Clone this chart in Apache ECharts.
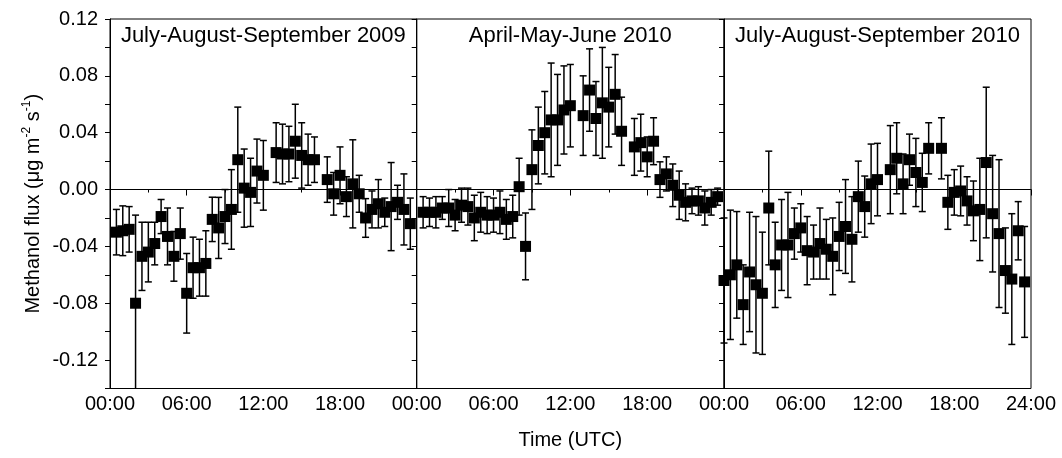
<!DOCTYPE html>
<html>
<head>
<meta charset="utf-8">
<script src="https://cdn.jsdelivr.net/npm/echarts@6/dist/echarts.min.js"></script>
<style>
  html, body { margin: 0; padding: 0; background: #fff; }
  #chart { width: 1062px; height: 458px; }
</style>
</head>
<body>
<div id="chart"></div>
<script>
// half-hour time stamps (hours UTC)
var hoursA = [0.5, 1, 1.5, 2, 2.5, 3, 3.5, 4, 4.5, 5, 5.5, 6, 6.5, 7, 7.5, 8, 8.5, 9, 9.5, 10,
  10.5, 11, 11.5, 12, 12.5, 13, 13.5, 14, 14.5, 15, 15.5, 16, 16.5, 17, 17.5, 18, 18.5, 19,
  19.5, 20, 20.5, 21, 21.5, 22, 22.5, 23, 23.5];
var hoursB = [0, 0.5, 1, 1.5, 2, 2.5, 3, 3.5, 4, 4.5, 5, 5.5, 6, 6.5, 7, 7.5, 8, 8.5, 9, 9.5, 10,
  10.5, 11, 11.5, 12, 12.5, 13, 13.5, 14, 14.5, 15, 15.5, 16, 16.5, 17, 17.5, 18, 18.5, 19,
  19.5, 20, 20.5, 21, 21.5, 22, 22.5, 23, 23.5];

// July-August-September 2009
var flux2009 = [-0.030, -0.029, -0.028, -0.080, -0.047, -0.044, -0.038, -0.019, -0.033, -0.047,
  -0.031, -0.073, -0.055, -0.055, -0.052, -0.021, -0.027, -0.019, -0.014, 0.021, 0.001, -0.002,
  0.013, 0.010, null, 0.026, 0.025, 0.025, 0.034, 0.024, 0.021, 0.021, null, 0.007, -0.003,
  0.010, -0.005, 0.004, -0.003, -0.020, -0.014, -0.010, -0.016, -0.012, -0.009, -0.014, -0.024];
var err2009 = [0.016, 0.0175, 0.016, 0.062, 0.024, 0.021, 0.015, 0.012, 0.020, 0.0175, 0.018,
  0.028, 0.0215, 0.020, 0.023, 0.0156, 0.0215, 0.019, 0.028, 0.037, 0.0275, 0.024, 0.0225,
  0.0245, null, 0.021, 0.021, 0.0195, 0.026, 0.023, 0.018, 0.016, null, 0.016, 0.015, 0.020,
  0.014, 0.031, 0.013, 0.0136, 0.013, 0.017, 0.010, 0.031, 0.012, 0.025, 0.018];

// April-May-June 2010
var fluxSpring = [-0.016, -0.016, -0.016, -0.013, -0.013, -0.018, -0.011, -0.012, -0.020,
  -0.016, -0.018, -0.018, -0.016, -0.021, -0.019, 0.002, -0.040, 0.014, 0.031, 0.040, 0.049,
  0.049, 0.056, 0.059, null, 0.052, 0.070, 0.050, 0.061, 0.058, 0.067, 0.041, null, 0.030,
  0.033, 0.023, 0.034, 0.007, 0.011, 0.003, -0.004, -0.009, -0.008, -0.008, -0.013, -0.009, -0.005];
var errSpring = [0.011, 0.010, 0.011, 0.008, 0.013, 0.011, 0.012, 0.013, 0.016, 0.014, 0.013,
  0.012, 0.015, 0.014, 0.015, 0.020, 0.0235, 0.028, 0.027, 0.029, 0.040, 0.032, 0.031, 0.029,
  null, 0.028, 0.029, 0.026, 0.039, 0.028, 0.028, 0.024, null, 0.020, 0.020, 0.014, 0.0165,
  0.0125, 0.012, 0.015, 0.017, 0.013, 0.009, 0.010, 0.012, 0.009, 0.006];

// July-August-September 2010
var flux2010 = [-0.064, -0.060, -0.053, -0.081, -0.058, -0.067, -0.073, -0.013, -0.053, -0.039,
  -0.039, -0.031, -0.027, -0.043, -0.044, -0.038, -0.042, -0.047, -0.033, -0.026, -0.035,
  -0.005, -0.012, 0.004, 0.007, null, 0.014, 0.022, 0.004, 0.021, 0.012, 0.005, 0.029, null,
  0.029, -0.009, -0.002, -0.001, -0.008, -0.015, -0.014, 0.019, -0.017, -0.031, -0.057,
  -0.063, -0.029, -0.065];
var err2010 = [0.044, 0.0455, 0.0375, 0.028, 0.042, 0.048, 0.043, 0.040, 0.030, 0.032, 0.037,
  0.018, 0.017, 0.024, 0.019, 0.025, 0.021, 0.027, 0.024, 0.033, 0.030, 0.025, 0.0215, 0.028,
  0.0255, null, 0.031, 0.025, 0.021, 0.018, 0.024, 0.0205, 0.018, null, 0.0215, 0.019, 0.016,
  0.0175, 0.017, 0.021, 0.036, 0.053, 0.041, 0.052, 0.030, 0.046, 0.0205, 0.039];

var panelTitles = ['July-August-September 2009', 'April-May-June 2010', 'July-August-September 2010'];

var FONT = "'Liberation Sans', Arial, sans-serif";
var YMIN = -0.14, YMAX = 0.12;

var panels = [
  { hours: hoursA, vals: flux2009, errs: err2009 },
  { hours: hoursA, vals: fluxSpring, errs: errSpring },
  { hours: hoursB, vals: flux2010, errs: err2010 }
];
var lefts = [110, 416.7, 724];
var widths = [306.7, 307.3, 307];

function hourLabel(v) {
  return (v < 10 ? '0' : '') + v + ':00';
}
function yLabel(v) {
  var k = Math.round(v * 100);
  return k % 4 === 0 ? (k / 100).toFixed(2) : '';
}

// error bar with caps, clipped at the bottom of the axis
function renderBar(params, api) {
  var x = api.value(0), y = api.value(1), e = api.value(2);
  var lo = y - e, hi = y + e;
  var clipped = lo < YMIN;
  if (clipped) lo = YMIN;
  var pTop = api.coord([x, hi]);
  var pBot = api.coord([x, lo]);
  var hw = 3.5;
  var st = { stroke: '#000', lineWidth: 1.5 };
  var kids = [
    { type: 'line', shape: { x1: pTop[0], y1: pTop[1], x2: pBot[0], y2: pBot[1] }, style: st },
    { type: 'line', shape: { x1: pTop[0] - hw, y1: pTop[1], x2: pTop[0] + hw, y2: pTop[1] }, style: st }
  ];
  if (!clipped) {
    kids.push({ type: 'line', shape: { x1: pBot[0] - hw, y1: pBot[1], x2: pBot[0] + hw, y2: pBot[1] }, style: st });
  }
  return { type: 'group', children: kids };
}

var grid = [], xAxis = [], yAxis = [], series = [], title = [];

panels.forEach(function (p, i) {
  grid.push({
    left: lefts[i], width: widths[i], top: 19, height: 369.5,
    show: true, borderColor: '#000', borderWidth: 1, backgroundColor: 'transparent'
  });
  title.push({
    text: panelTitles[i],
    left: lefts[i] + widths[i] / 2 - 5, top: 20, textAlign: 'center',
    textStyle: { fontFamily: FONT, fontSize: 22, fontWeight: 'normal', color: '#000' }
  });
  xAxis.push({
    type: 'value', gridIndex: i, min: 0, max: 24, interval: 6,
    axisLine: { show: true, lineStyle: { color: '#000', width: 1 } },
    axisTick: { show: true, length: 6, lineStyle: { color: '#000' } },
    minorTick: { show: true, splitNumber: 2, length: 3, lineStyle: { color: '#000' } },
    splitLine: { show: false },
    axisLabel: {
      formatter: hourLabel, fontFamily: FONT, fontSize: 20, color: '#000', margin: 6,
      showMaxLabel: i === 2, showMinLabel: true
    },
    name: i === 1 ? 'Time (UTC)' : '',
    nameLocation: 'middle', nameGap: 42,
    nameTextStyle: { fontFamily: FONT, fontSize: 20, color: '#000' }
  });
  // left axis: labels only on the first panel
  yAxis.push({
    type: 'value', gridIndex: i, min: YMIN, max: YMAX, interval: 0.02,
    axisLine: { show: true, lineStyle: { color: '#000', width: 1 } },
    axisTick: { show: i === 0, length: 5, lineStyle: { color: '#000' } },
    splitLine: { show: false },
    axisLabel: { show: i === 0, formatter: yLabel, fontFamily: FONT, fontSize: 20, color: '#000', margin: 12 },
    name: i === 0 ? '{a|Methanol flux (μg m}{s|-2}{a| s}{s|-1}{a|)}' : '',
    nameLocation: 'middle', nameRotate: 90, nameGap: 65,
    nameTextStyle: {
      rich: {
        a: { fontFamily: FONT, fontSize: 20, color: '#000', lineHeight: 24 },
        s: { fontFamily: FONT, fontSize: 12, color: '#000', lineHeight: 12, verticalAlign: 'top' }
      }
    }
  });
  // right axis: inward ticks on the first two panels
  yAxis.push({
    type: 'value', gridIndex: i, position: 'right', min: YMIN, max: YMAX, interval: 0.02,
    axisLine: { show: false },
    axisTick: { show: i < 2, inside: true, length: 5, lineStyle: { color: '#000' } },
    axisLabel: { show: false },
    splitLine: { show: false }
  });

  var pts = [], bars = [];
  p.hours.forEach(function (h, k) {
    if (p.vals[k] === null) return;
    pts.push([h, p.vals[k]]);
    bars.push([h, p.vals[k], p.errs[k]]);
  });

  series.push({
    type: 'custom', xAxisIndex: i, yAxisIndex: 2 * i,
    renderItem: renderBar, data: bars, z: 2, silent: true
  });
  series.push({
    type: 'scatter', xAxisIndex: i, yAxisIndex: 2 * i,
    symbol: 'rect', symbolSize: 11, data: pts, z: 3,
    itemStyle: { color: '#000', opacity: 1 },
    markLine: {
      silent: true, symbol: ['none', 'none'], label: { show: false },
      lineStyle: { color: '#000', width: 1, type: 'solid' },
      data: [{ yAxis: 0 }]
    }
  });
});

var myChart = echarts.init(document.getElementById('chart'));
myChart.setOption({
  animation: false,
  backgroundColor: '#fff',
  title: title,
  grid: grid,
  xAxis: xAxis,
  yAxis: yAxis,
  series: series
});
</script>
</body>
</html>
